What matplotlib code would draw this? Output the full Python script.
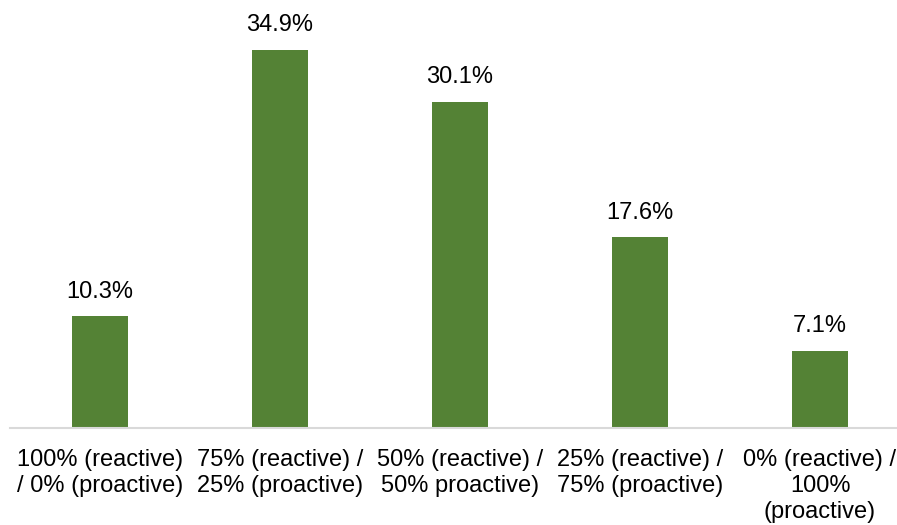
import matplotlib.pyplot as plt

plt.rcParams['font.family'] = ['Liberation Sans', 'DejaVu Sans']

categories = [
    '100% (reactive)\n/ 0% (proactive)',
    '75% (reactive) /\n25% (proactive)',
    '50% (reactive) /\n50% proactive)',
    '25% (reactive) /\n75% (proactive)',
    '0% (reactive) /\n100%\n(proactive)',
]
values = [10.3, 34.9, 30.1, 17.6, 7.1]

fig = plt.figure(figsize=(8.97, 5.25), dpi=100)
ax = fig.add_axes([10 / 897, 97 / 525, 887 / 897, 428 / 525])

x = range(len(values))
bars = ax.bar(x, values, width=0.31, color='#548235')

for b, v in zip(bars, values):
    ax.annotate(f'{v:.1f}%', (b.get_x() + b.get_width() / 2, v),
                xytext=(0, 10), textcoords='offset points',
                ha='center', va='bottom', fontsize=17, color='black')

ax.set_xlim(-0.5, 887 / 180 - 0.5)
ax.set_ylim(0, 428 / 10.83)
ax.set_xticks(list(x))
ax.set_xticklabels(categories, fontsize=17, linespacing=1.25)
ax.tick_params(axis='x', length=0, pad=15)
ax.set_yticks([])

for side in ['top', 'right', 'left']:
    ax.spines[side].set_visible(False)
ax.spines['bottom'].set_color('#d9d9d9')
ax.spines['bottom'].set_linewidth(1.5)

fig.savefig('out.png', dpi=100)
